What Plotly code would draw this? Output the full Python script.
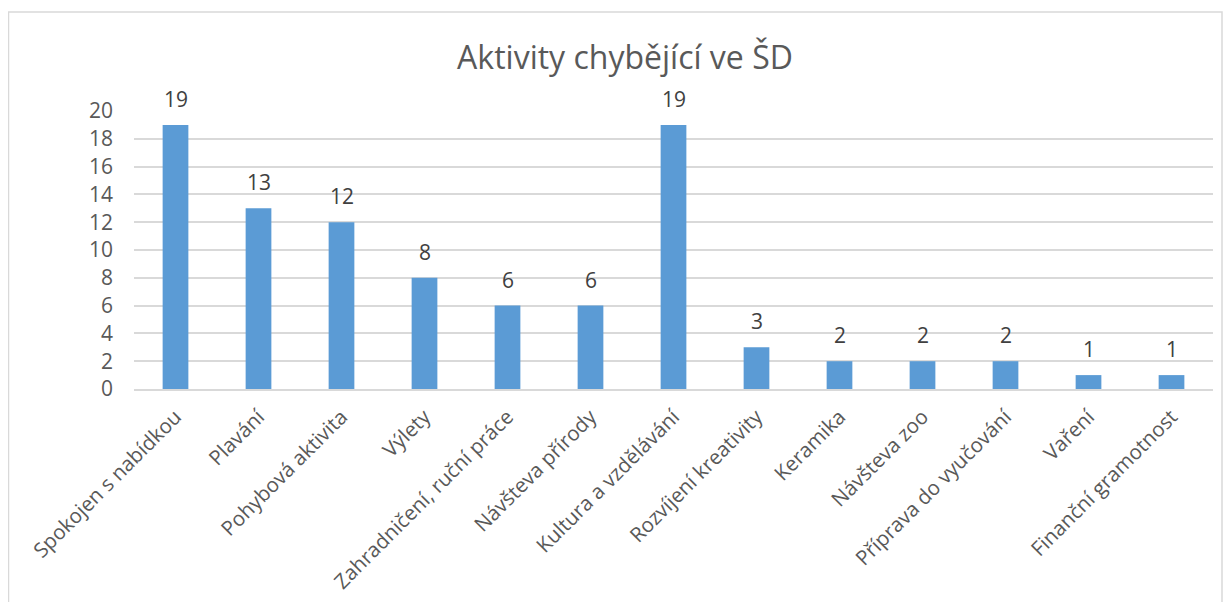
import plotly.graph_objects as go

categories = ["Spokojen s nabídkou", "Plavání", "Pohybová aktivita", "Výlety",
              "Zahradničení, ruční práce", "Návšteva přírody", "Kultura a vzdělávání",
              "Rozvíjení kreativity", "Keramika", "Návšteva zoo",
              "Příprava do vyučování", "Vaření", "Finanční gramotnost"]
values = [19, 13, 12, 8, 6, 6, 19, 3, 2, 2, 2, 1, 1]
y_ticks = list(range(0, 21, 2))
title_text = "Aktivity chybějící ve ŠD"

FONT = "Open Sans, Liberation Sans, sans-serif"

fig = go.Figure(go.Bar(
    x=categories, y=values, width=0.31,
    marker=dict(color="#5B9BD5", line=dict(width=0)),
    hoverinfo="x+y",
))

# page body has an 8px margin; work in figure coordinates
W, H = 1216, 594
L, R, T, B = 126, 1205, 103, 381
fig.update_layout(
    width=W, height=H,
    margin=dict(l=L, r=W - R, t=T, b=H - B),
    paper_bgcolor="white", plot_bgcolor="white",
    showlegend=False,
    title=dict(text=title_text, x=(617 - L) / (R - L), xref="paper", xanchor="center",
               y=1 - 50 / H, yref="container", yanchor="middle",
               font=dict(family=FONT, size=32, color="#595959")),
    xaxis=dict(tickangle=-45, tickfont=dict(family=FONT, size=20.5, color="#595959"),
               showgrid=False, showline=True, linecolor="#d9d9d9", linewidth=1.5,
               ticks="", ticklabelstandoff=6, automargin=False),
    yaxis=dict(range=[0, 20], tickvals=y_ticks, tickfont=dict(family=FONT, size=21, color="#595959"),
               showgrid=True, gridcolor="#d9d9d9", gridwidth=1.5, zeroline=False,
               showline=False, ticks="", ticklabelstandoff=20, automargin=False),
    shapes=[dict(type="rect", xref="paper", yref="paper",
                 x0=(0.5 - L) / (R - L), x1=(1214 - L) / (R - L),
                 y0=(B - 640) / (B - T), y1=(B - 4) / (B - T),
                 line=dict(color="#d9d9d9", width=1.5), fillcolor="rgba(0,0,0,0)", layer="below")],
)

for c, v in zip(categories, values):
    fig.add_annotation(x=c, y=v, text=str(v), showarrow=False, yanchor="bottom",
                       yshift=10, font=dict(family=FONT, size=21, color="#404040"))

fig.write_html("out.html")
